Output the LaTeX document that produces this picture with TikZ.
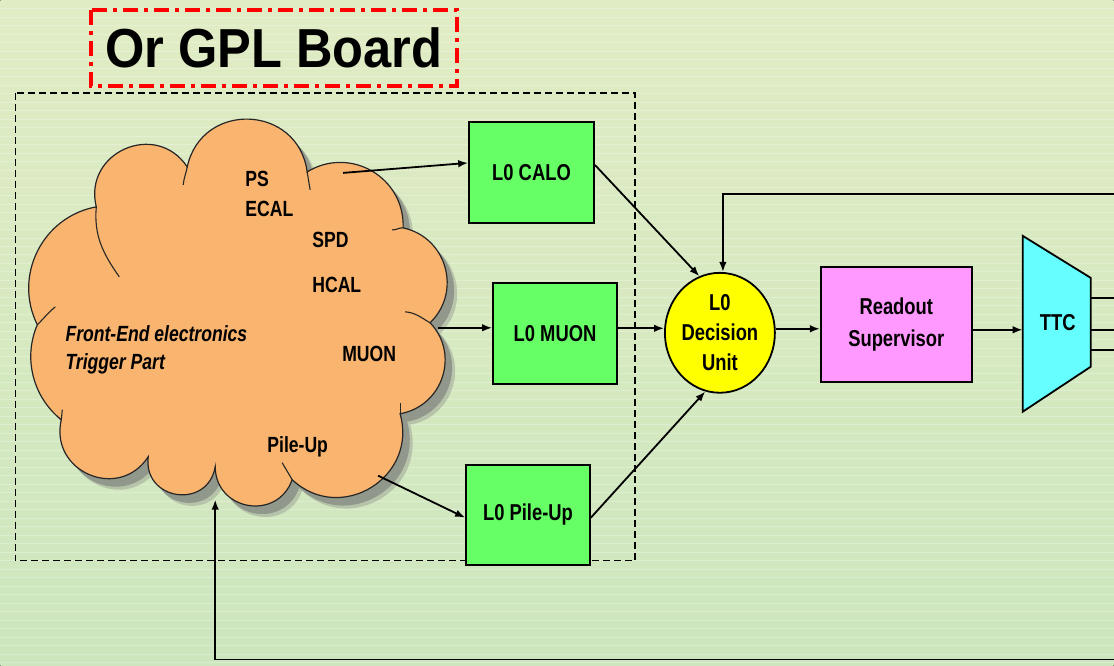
\documentclass[tikz,border=0pt]{standalone}
\usepackage{fontspec}
\setmainfont{Liberation Sans}
\newfontfamily\narrowfont[FakeStretch=0.8]{Liberation Sans}
\newfontfamily\titlefont[FakeStretch=0.92]{Liberation Sans}
\usetikzlibrary{arrows.meta,shapes.geometric}
\definecolor{bgtop}{RGB}{224,236,196}
\definecolor{bgbot}{RGB}{205,230,190}
\definecolor{cloudfill}{RGB}{249,180,112}
\definecolor{boxgreen}{RGB}{102,255,102}
\definecolor{rspink}{RGB}{255,153,255}
\definecolor{ttccyan}{RGB}{102,255,255}
\definecolor{decyellow}{RGB}{255,255,0}
\def\cloudpath{(96,-207) to[out=103.8,in=123.6,looseness=1.45] (187,-167)
 to[out=77.7,in=97.5,looseness=1.45] (307,-172)
 to[out=31.6,in=87.8,looseness=1.16] (403,-228)
 to[out=-12.1,in=44.1,looseness=1.16] (430,-323)
 to[out=-46.1,in=10.1,looseness=1.16] (400,-414)
 to[out=-74.1,in=-43.1,looseness=1.34] (292,-480)
 to[out=-109.5,in=-89.7,looseness=1.45] (215,-467)
 to[out=-99.7,in=-97.3,looseness=1.67] (148,-457)
 to[out=-122.9,in=-103.1,looseness=1.45] (61,-420)
 to[out=141.5,in=246.5,looseness=0.95] (37,-325)
 to[out=116.5,in=190.3,looseness=1.06] (96,-207) -- cycle}
\begin{document}
\begin{tikzpicture}[x=1pt,y=1pt,
  lbl/.style={font=\narrowfont\fontsize{22}{30}\selectfont\bfseries, inner sep=0pt, text=black},
  blbl/.style={font=\narrowfont\fontsize{23}{30}\selectfont\bfseries, inner sep=0pt, text=black},
  cl/.style={lbl, anchor=base west},
  ital/.style={font=\narrowfont\fontsize{22}{28}\selectfont\bfseries\itshape, inner sep=0pt, anchor=base west},
  gbox/.style={blbl, draw=black, line width=1.8, fill=boxgreen, minimum width=125, minimum height=101},
  arr/.style={line width=1.8, -{Latex[length=10pt,width=7.5pt]}},
  ln/.style={line width=1.8},
  inner/.style={line width=1.1, black!85},
]
\fill[top color=bgtop, bottom color=bgbot] (0,0) rectangle (1114,-666);
\foreach \i in {1,...,78} \draw[white, opacity=0.25, line width=0.7] (0,-\i*8.5) -- (1114,-\i*8.5);
\useasboundingbox (0,0) rectangle (1114,-666);

% title
\draw[red, line width=4, dash pattern=on 15pt off 6pt on 4pt off 6pt] (91,-10) rectangle (457,-86);
\node[font=\titlefont\fontsize{55}{60}\selectfont\bfseries, inner sep=0pt] (title) at (273.5,-48) {Or GPL Board};

% dashed board
\draw[line width=1.5, dash pattern=on 7pt off 4pt] (15,-93) rectangle (635,-561);

% cloud
\fill[black!50, opacity=0.35, shift={(10,-11)}] \cloudpath;
\fill[black!55, opacity=0.55, shift={(7,-8)}] \cloudpath;
\filldraw[fill=cloudfill, draw=black!85, line width=1.2] \cloudpath;
\draw[inner] (96,-207) to[out=-95,in=125] (119,-277);
\draw[inner] (187,-167) to[out=-100,in=85] (183,-185);
\draw[inner] (307,-172) to[out=-80,in=100] (310,-190);
\draw[inner] (403,-228) to[out=175,in=-5] (392,-230);
\draw[inner] (430,-323) to[out=150,in=-5] (405,-312);
\draw[inner] (400,-414) -- (400,-403);
\draw[inner] (292,-480) to[out=120,in=-60] (282,-463);
\draw[inner] (61,-420) -- (62,-410);
\draw[inner] (37,-325) to[out=45,in=-140] (55,-307);

\node[cl] (ps) at (245,-187) {PS};
\node[cl] (ecal) at (245,-217) {ECAL};
\node[cl] (spd) at (312,-248) {SPD};
\node[cl] (hcal) at (312,-293) {HCAL};
\node[cl] (muontxt) at (342,-362) {MUON};
\node[cl] (putxt) at (267,-453) {Pile-Up};
\node[ital] (fe) at (65,-342) {Front-End electronics};
\node[ital] (tp) at (65,-370) {Trigger Part};

\coordinate (clcalo) at (343,-173);
\coordinate (clmuon) at (438,-328);
\coordinate (clpu) at (378,-476);
\coordinate (clbot) at (215,-500);
\coordinate (topin) at (1114,-194);
\coordinate (botin) at (1114,-660);
\coordinate (ttcin) at (1023,-330);

% boxes
\node[gbox] (calo) at (531.5,-172.5) {L0 CALO};
\node[gbox, minimum width=124] (muon) at (555,-333.5) {L0 MUON};
\node[gbox, minimum width=124, minimum height=100] (pu) at (528,-515) {L0 Pile-Up};
\node[blbl, ellipse, draw=black, line width=1.8, fill=decyellow, minimum width=110, minimum height=120, align=center] (dec) at (720,-333) {L0\\Decision\\Unit};
\node[blbl, font=\narrowfont\fontsize{23}{32}\selectfont\bfseries, draw=black, line width=1.8, fill=rspink, minimum width=151, minimum height=115, align=center] (rs) at (896.5,-324.5) {Readout\\Supervisor};

% TTC
\filldraw[fill=ttccyan, draw=black, line width=1.8] (1023,-236) -- (1091,-278) -- (1091,-367) -- (1023,-412) -- cycle;
\node[blbl] (ttc) at (1058,-323) {TTC};
\coordinate (to1) at (1091,-298); \coordinate (te1) at (1114,-298);
\coordinate (to2) at (1091,-330); \coordinate (te2) at (1114,-330);
\coordinate (to3) at (1091,-350); \coordinate (te3) at (1114,-350);
\draw[ln] (to1) -- (te1);
\draw[ln] (to2) -- (te2);
\draw[ln] (to3) -- (te3);

% connectors
\draw[arr] (clcalo) -- ([yshift=9.5]calo.west);
\draw[arr] (clmuon) -- (clmuon -| muon.west);
\draw[arr] (clpu) -- ([yshift=-3]pu.west);
\draw[arr] ([yshift=7.5]calo.east) -- (dec.110);
\draw[arr] ([yshift=5]muon.east) -- ([yshift=5]muon.east -| dec.west);
\draw[arr] ([yshift=-3]pu.east) -- (dec.256);
\draw[arr] ([yshift=4]dec.east) -- ([yshift=4]dec.east -| rs.west);
\draw[arr] (rs.east |- ttcin) -- (ttcin);
\draw[arr] (topin) -| ([xshift=3]dec.north);
\draw[arr] (botin) -| (clbot);
\end{tikzpicture}
\end{document}
